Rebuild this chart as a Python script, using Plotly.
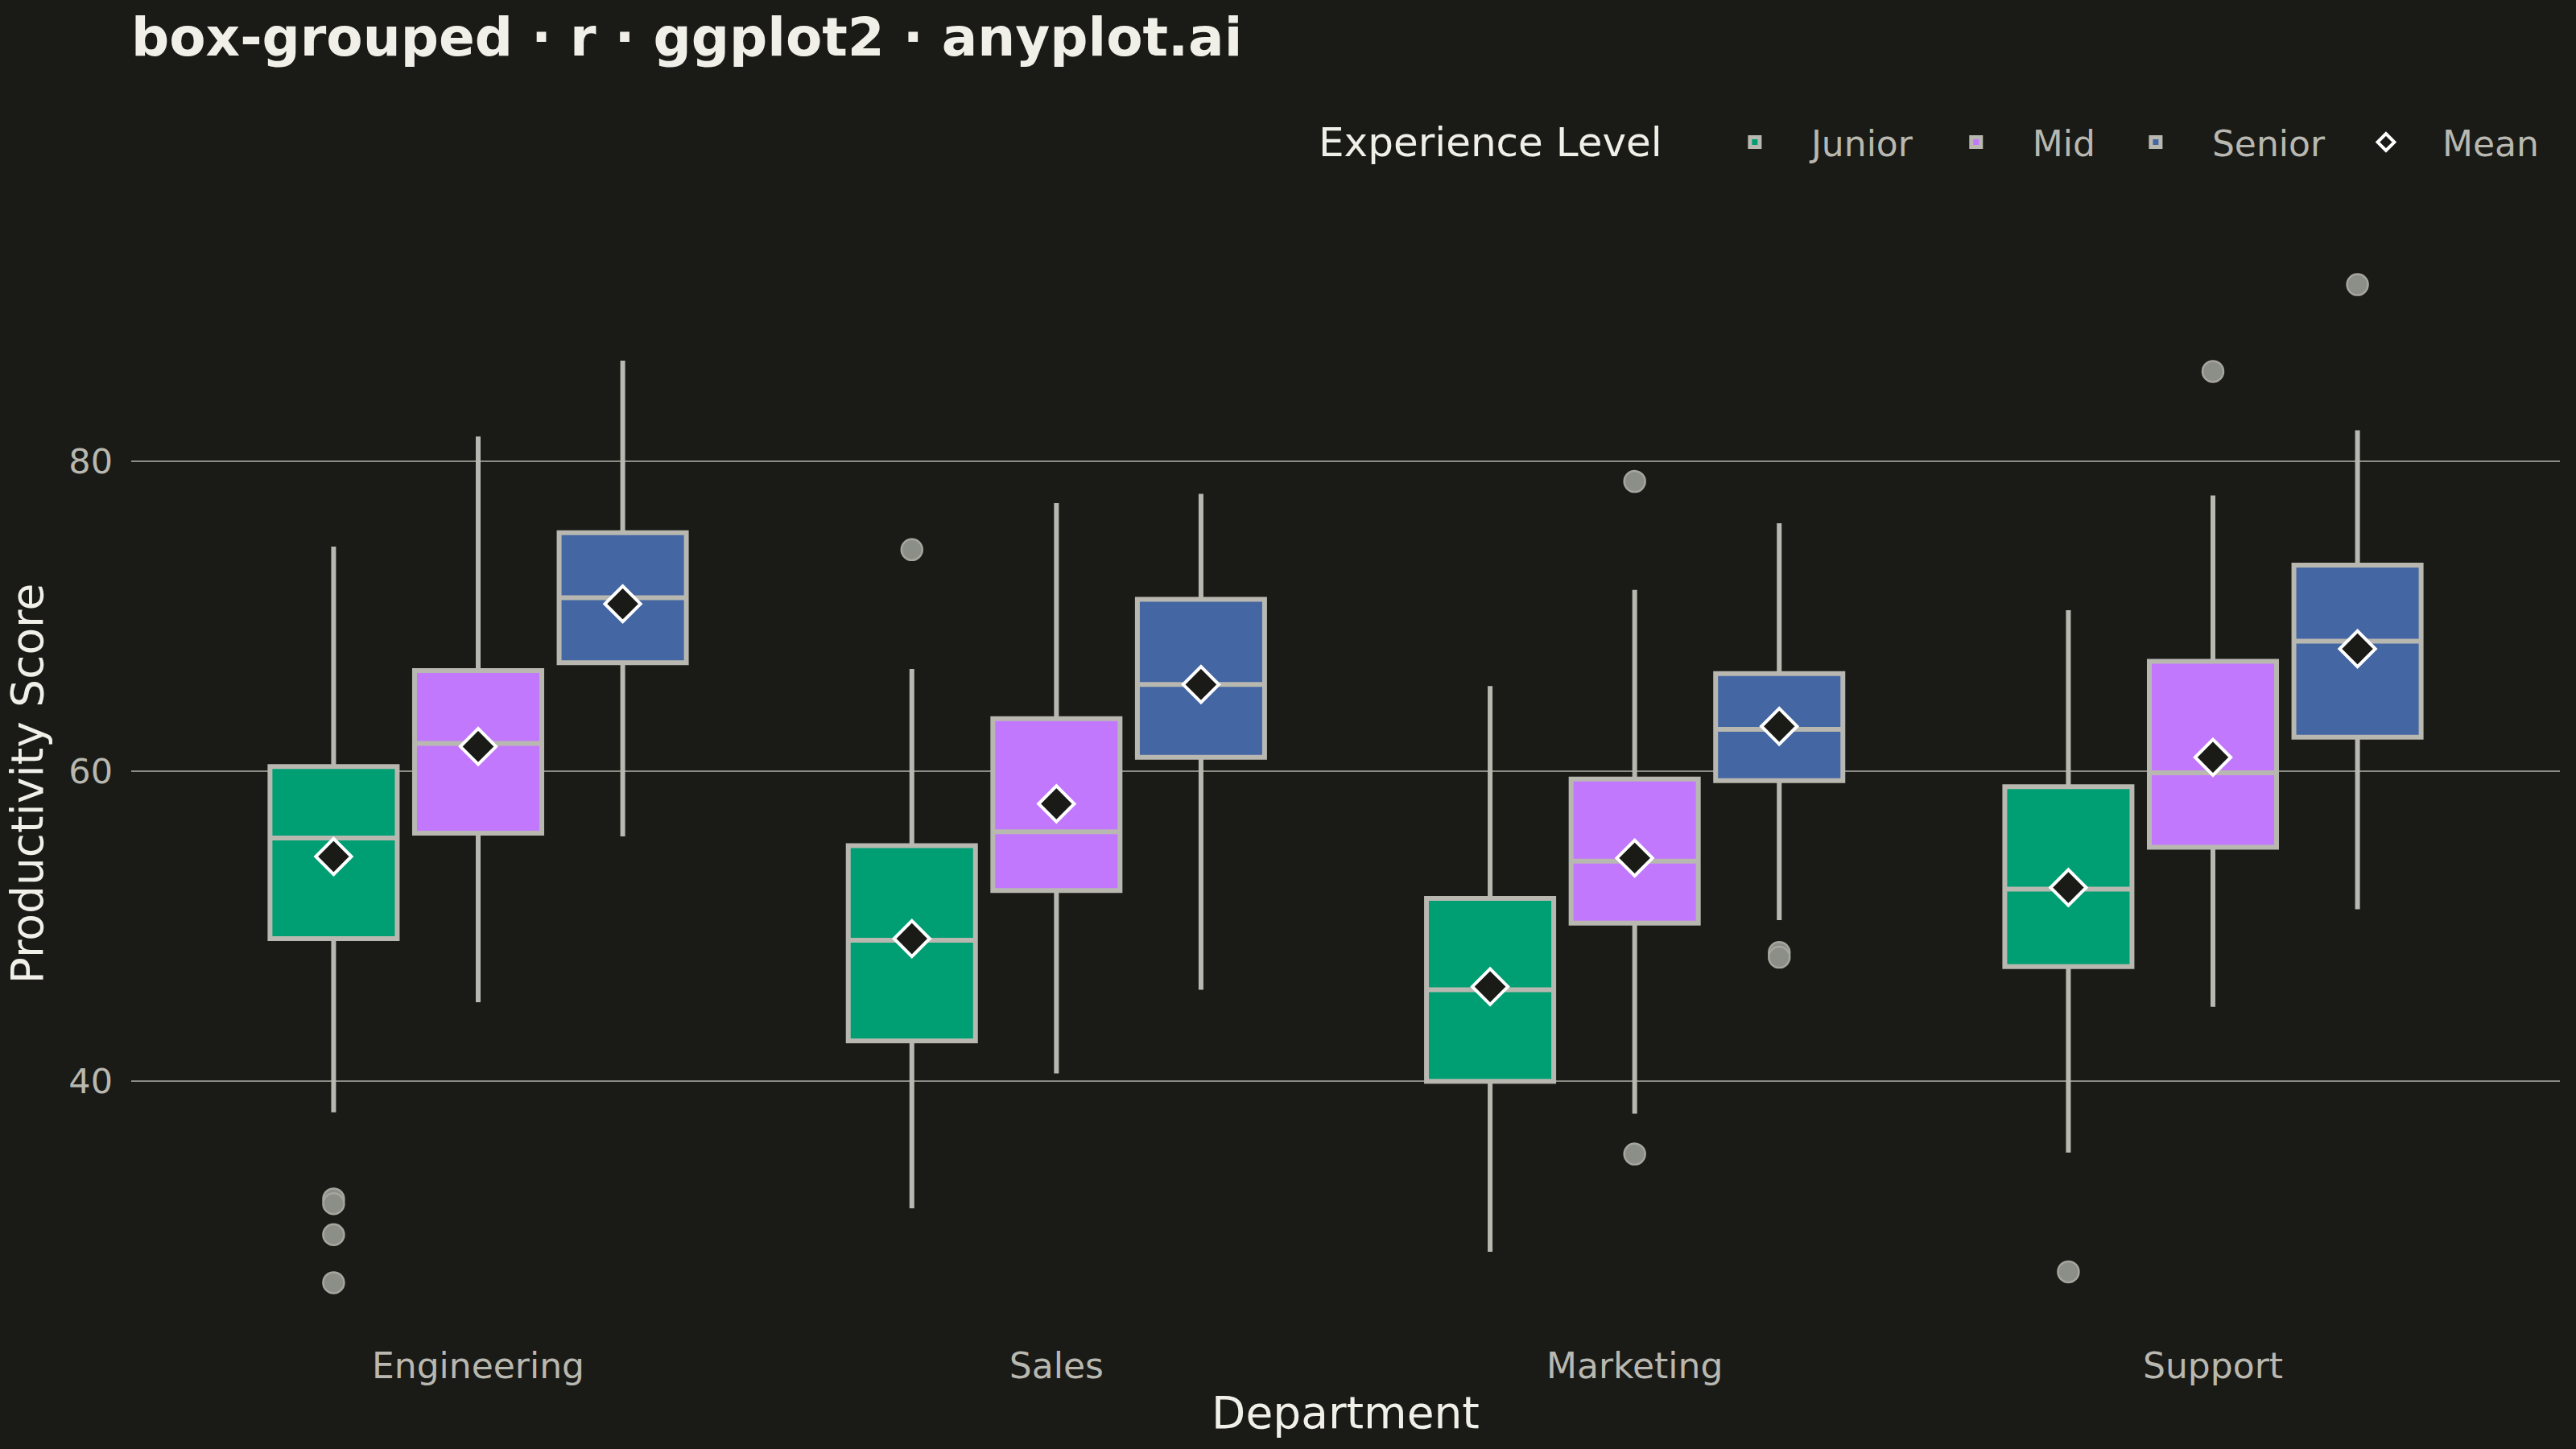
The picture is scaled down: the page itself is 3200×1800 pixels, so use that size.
import plotly.graph_objects as go

# Kategori dan level
departments = ["Engineering", "Sales", "Marketing", "Support"]
levels = ["Junior", "Mid", "Senior"]

# Statistik box per level (urutan sesuai departments)
junior_lower = [38.0, 31.8, 29.0, 35.4]
junior_q1 = [49.2, 42.6, 40.0, 47.4]
junior_median = [55.7, 49.1, 45.9, 52.4]
junior_q3 = [60.3, 55.2, 51.8, 59.0]
junior_upper = [74.5, 66.6, 65.5, 70.4]
junior_mean = [54.5, 49.2, 46.1, 52.5]

mid_lower = [45.1, 40.5, 37.9, 44.8]
mid_q1 = [56.0, 52.3, 50.2, 55.1]
mid_median = [61.8, 56.1, 54.2, 59.9]
mid_q3 = [66.5, 63.4, 59.5, 67.1]
mid_upper = [81.6, 77.3, 71.7, 77.8]
mid_mean = [61.6, 57.9, 54.4, 60.9]

senior_lower = [55.8, 45.9, 50.4, 51.1]
senior_q1 = [67.0, 60.9, 59.4, 62.2]
senior_median = [71.2, 65.6, 62.7, 68.4]
senior_q3 = [75.4, 71.1, 66.3, 73.3]
senior_upper = [86.5, 77.9, 76.0, 82.0]
senior_mean = [70.8, 65.6, 62.9, 67.9]

# Outlier
junior_out_dept = ["Engineering", "Engineering", "Engineering", "Engineering", "Sales", "Support"]
junior_out_val = [32.4, 32.1, 30.1, 27.0, 74.3, 27.7]
mid_out_dept = ["Marketing", "Marketing", "Support"]
mid_out_val = [78.7, 35.3, 85.8]
senior_out_dept = ["Marketing", "Marketing", "Support"]
senior_out_val = [48.3, 48.0, 91.4]

colors = {"Junior": "#009E73", "Mid": "#C278FD", "Senior": "#4466A3"}
bg = "#1A1A17"
line_gray = "#B8B8B0"
text_light = "#F0EFE8"
text_gray = "#B8B8B0"
font = "DejaVu Sans"

stats = {
    "Junior": (junior_lower, junior_q1, junior_median, junior_q3, junior_upper, junior_mean,
               junior_out_dept, junior_out_val),
    "Mid": (mid_lower, mid_q1, mid_median, mid_q3, mid_upper, mid_mean,
            mid_out_dept, mid_out_val),
    "Senior": (senior_lower, senior_q1, senior_median, senior_q3, senior_upper, senior_mean,
               senior_out_dept, senior_out_val),
}

fig = go.Figure()

for lvl in levels:
    lo, q1, med, q3, up, mn, od, ov = stats[lvl]
    fig.add_trace(go.Box(
        x=departments, lowerfence=lo, q1=q1, median=med, q3=q3, upperfence=up,
        name=lvl, offsetgroup=lvl, alignmentgroup="a",
        fillcolor=colors[lvl], line=dict(color=line_gray, width=6),
        whiskerwidth=0, boxpoints=False, hoverinfo="skip",
    ))

for lvl in levels:
    lo, q1, med, q3, up, mn, od, ov = stats[lvl]
    fig.add_trace(go.Scatter(
        x=od, y=ov, mode="markers", offsetgroup=lvl, alignmentgroup="a",
        marker=dict(size=26, color="#8C8E88", line=dict(color="#A6A69E", width=2.5)),
        showlegend=False, hoverinfo="skip",
    ))

for i, lvl in enumerate(levels):
    lo, q1, med, q3, up, mn, od, ov = stats[lvl]
    fig.add_trace(go.Scatter(
        x=departments, y=mn, mode="markers", offsetgroup=lvl, alignmentgroup="a",
        name="Mean", legendgroup="mean", showlegend=(i == 0),
        marker=dict(symbol="diamond", size=34, color=bg, line=dict(color="white", width=4)),
        hoverinfo="skip",
    ))

# judul legenda sebagai anotasi supaya sejajar dengan item
fig.add_annotation(
    text="Experience Level", xref="paper", yref="paper",
    x=(1636 - 163) / 3017, y=1 + (292 - 177) / 1363,
    xanchor="left", yanchor="middle", showarrow=False,
    font=dict(size=50, color=text_light, family=font),
)

fig.update_layout(
    width=3200, height=1800,
    paper_bgcolor=bg, plot_bgcolor=bg,
    font=dict(family=font, color=text_gray, size=44),
    margin=dict(l=163, r=20, t=292, b=145),
    boxmode="group", boxgap=0.25, boxgroupgap=0.12,
    scattermode="group", scattergap=0.25,
    title=dict(
        text="<b>box-grouped · r · ggplot2 · anyplot.ai</b>",
        x=163 / 3200, xanchor="left", y=1 - 46 / 1800, yanchor="middle",
        font=dict(size=66, color=text_light, family=font),
    ),
    legend=dict(
        orientation="h", x=0.993, xanchor="right", y=1 + (292 - 177) / 1363, yanchor="middle",
        font=dict(size=44, color=text_gray),
        bgcolor="rgba(0,0,0,0)", itemwidth=130,
    ),
    xaxis=dict(
        range=[-0.6, 3.6], showgrid=False, zeroline=False, showline=False,
        ticks="", ticklabelstandoff=12,
        tickfont=dict(size=44, color=text_gray),
        title=dict(text="Department", font=dict(size=55, color=text_light), standoff=14),
    ),
    yaxis=dict(
        range=[23.8, 94.6], tickvals=[40, 60, 80],
        showgrid=True, gridcolor="#8C8C86", gridwidth=1.5,
        zeroline=False, showline=False, ticks="", ticklabelstandoff=22,
        tickfont=dict(size=43, color=text_gray),
        title=dict(text="Productivity Score", font=dict(size=55, color=text_light), standoff=14),
    ),
)

fig.write_html(
    "out.html",
    config={"displayModeBar": False},
    post_script="document.body.style.margin='0';document.body.style.background='#1A1A17';",
)
